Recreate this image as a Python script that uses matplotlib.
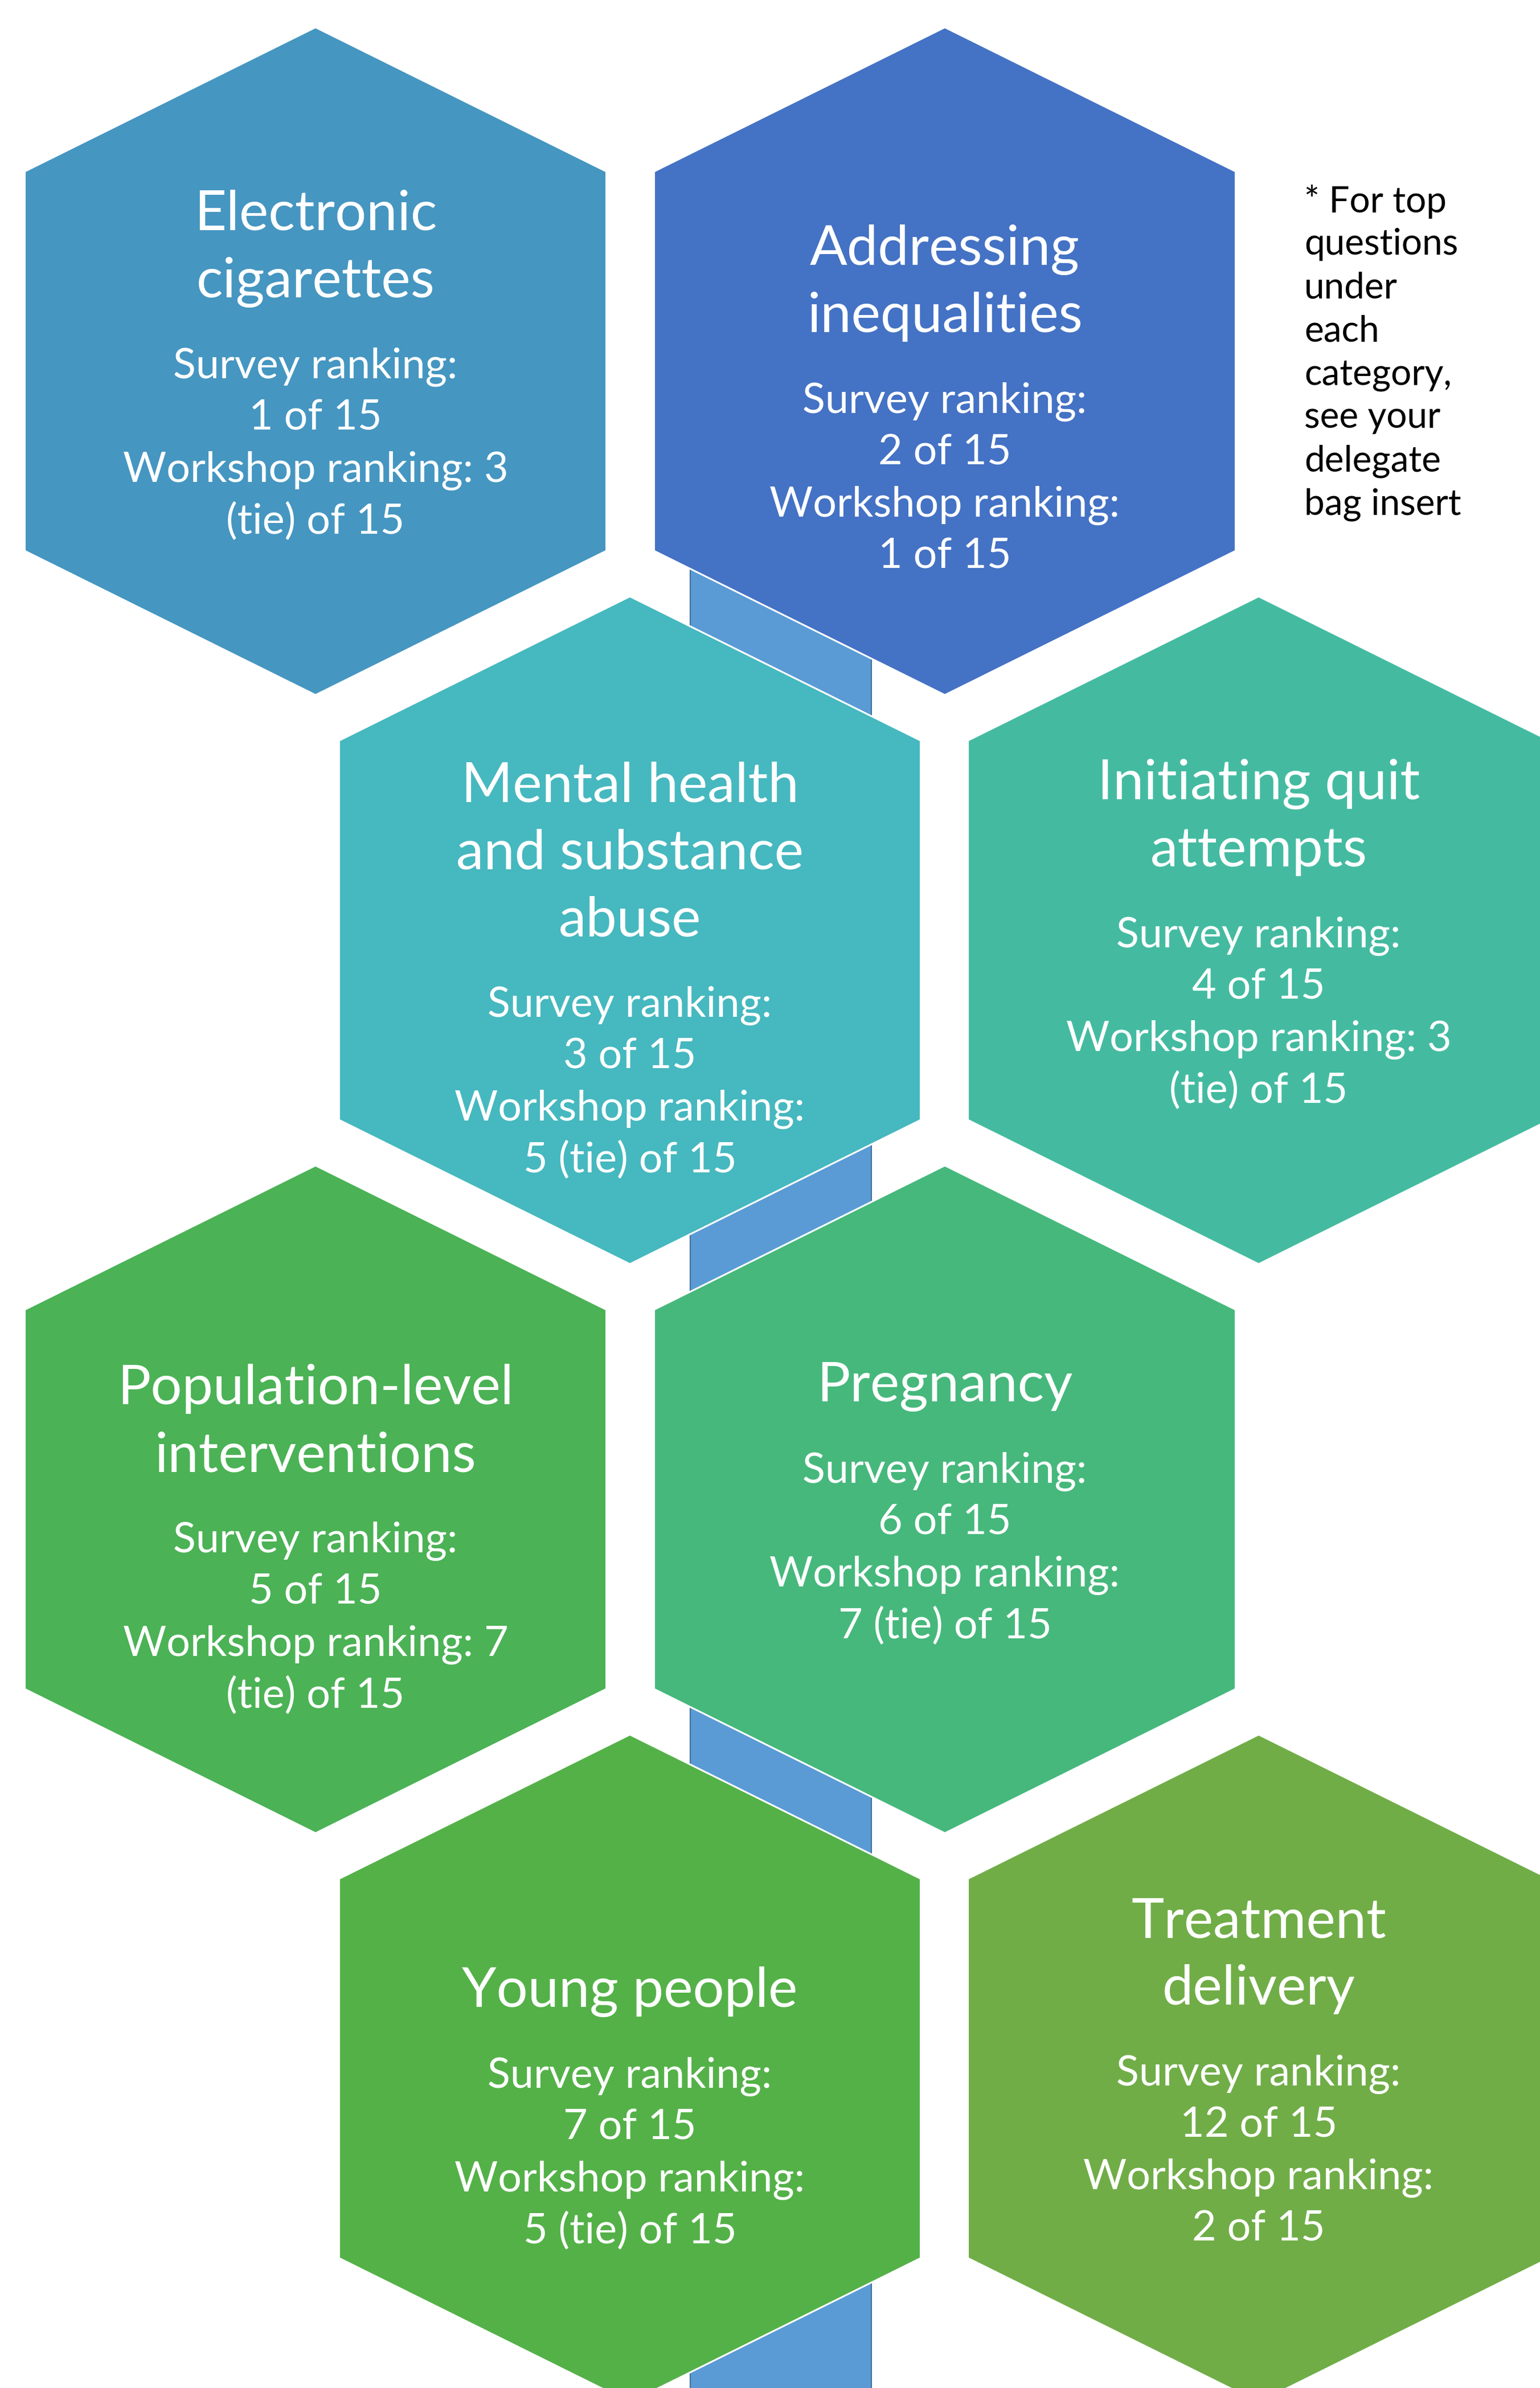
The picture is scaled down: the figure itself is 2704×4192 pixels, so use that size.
import matplotlib
matplotlib.use("Agg")
import matplotlib.pyplot as plt
from matplotlib.patches import Polygon, Rectangle

plt.rcParams["font.family"] = ["Lato", "DejaVu Sans"]

# chart content
categories = [
    "Electronic\ncigarettes",
    "Addressing\ninequalities",
    "Mental health\nand substance\nabuse",
    "Initiating quit\nattempts",
    "Population-level\ninterventions",
    "Pregnancy",
    "Young people",
    "Treatment\ndelivery",
]
survey_rank = [1, 2, 3, 4, 5, 6, 7, 12]
workshop_rank = ["3 (tie)", "1", "5 (tie)", "3 (tie)", "7 (tie)", "7 (tie)", "5 (tie)", "2"]
total_topics = 15
# where the workshop line wraps: right after the number, or before it
wrap_after_number = [True, False, False, True, True, False, False, False]
note_lines = ["* For top", "questions", "under", "each", "category,",
              "see your", "delegate", "bag insert"]

colors = ["#4596C1", "#4472C4", "#46B8BF", "#44BBA1",
          "#4BB255", "#46B87C", "#54B148", "#70AD47"]
connector_color = "#5B9BD5"

# layout (pixels of the 2704 x 4192 picture)
W, H = 2704, 4192
col_x = [554, 1106, 1659, 2210]
row_top0, row_step = 48, 999
hex_w, hex_h, shoulder = 1021, 1172, 253
text_shift = [5, 66, 68, 5, 68, 5, 68, 5]
title_step, gap_step, body_step = 118, 150, 91

fig = plt.figure(figsize=(W / 100, H / 100), dpi=100)
ax = fig.add_axes([0, 0, 1, 1])
ax.set_xlim(0, W)
ax.set_ylim(H, 0)
ax.axis("off")

# vertical connector running behind the honeycomb
ax.add_patch(Rectangle((1212, 600), 318, 3800, facecolor=connector_color,
                       edgecolor="#41719C", linewidth=1.5, zorder=1))


def hex_points(cx, top):
    hw = hex_w / 2
    return [(cx, top), (cx + hw, top + shoulder), (cx + hw, top + hex_h - shoulder),
            (cx, top + hex_h), (cx - hw, top + hex_h - shoulder), (cx - hw, top + shoulder)]


for i, name in enumerate(categories):
    row = i // 2
    col = (i % 2) * 2 + (row % 2)
    cx = col_x[col]
    top = row_top0 + row * row_step
    ax.add_patch(Polygon(hex_points(cx, top), closed=True, facecolor=colors[i],
                         edgecolor="white", linewidth=2.2, zorder=2))

    title = name.split("\n")
    if wrap_after_number[i]:
        num, rest = workshop_rank[i].split(" ", 1)
        work = [f"Workshop ranking: {num}", f"{rest} of {total_topics}"]
    else:
        work = ["Workshop ranking:", f"{workshop_rank[i]} of {total_topics}"]
    body = ["Survey ranking:", f"{survey_rank[i]} of {total_topics}"] + work

    block = title_step * (len(title) - 1) + gap_step + body_step * (len(body) - 1)
    y = top + hex_h / 2 + text_shift[i] - block / 2
    for j, line in enumerate(title):
        ax.text(cx, y + j * title_step, line, ha="center", va="center_baseline",
                color="white", fontsize=70, zorder=3)
    y += title_step * (len(title) - 1) + gap_step
    for j, line in enumerate(body):
        ax.text(cx, y + j * body_step, line, ha="center", va="center_baseline",
                color="white", fontsize=53, zorder=3)

for j, line in enumerate(note_lines):
    ax.text(2290, 348 + j * 76, line, ha="left", va="center_baseline",
            color="black", fontsize=46, zorder=3)

fig.savefig("out.png", dpi=100)
